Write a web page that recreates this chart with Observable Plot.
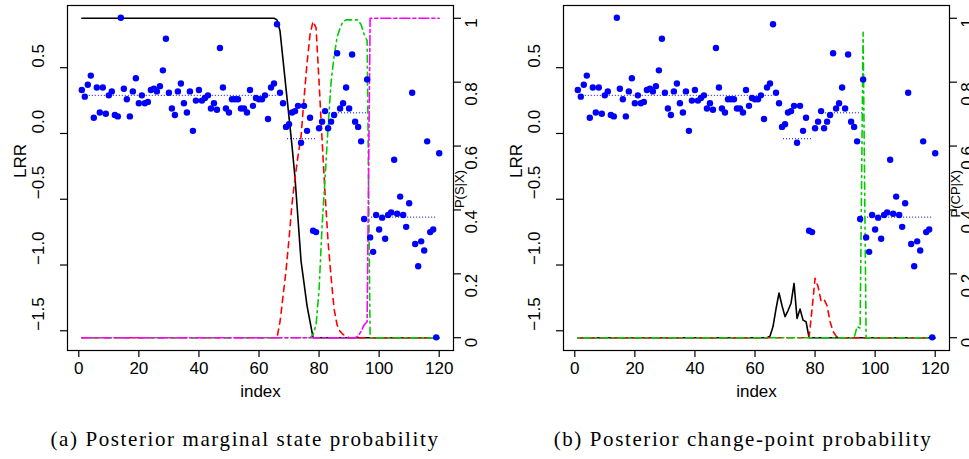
<!DOCTYPE html>
<html><head><meta charset="utf-8">
<script src="https://cdn.jsdelivr.net/npm/d3@7"></script>
<script src="https://cdn.jsdelivr.net/npm/@observablehq/plot@0.6"></script>
<style>
body{margin:0;width:969px;height:459px;overflow:hidden;background:#fff;position:relative;}
.panel{position:absolute;top:0;width:484px;height:410px;}
.panel svg{position:absolute;left:0;top:0;}
.cap{position:absolute;top:427px;font-family:"Liberation Serif",serif;font-size:21px;letter-spacing:1.6px;white-space:nowrap;transform:translateX(-50%);color:#000;}
</style></head><body>
<div id="pa" class="panel" style="left:0"></div>
<div id="pb" class="panel" style="left:496px"></div>
<div class="cap" style="left:245px">(a) Posterior marginal state probability</div>
<div class="cap" style="left:743px">(b) Posterior change-point probability</div>
<script>
// ---- data ----
const lrr = [0.33,0.28,0.37,0.44,0.12,0.35,0.16,0.35,0.15,0.29,
  0.32,0.14,0.13,0.88,0.34,0.26,0.13,0.32,0.42,0.23,
  0.29,0.23,0.24,0.33,0.34,0.32,0.36,0.48,0.72,0.31,
  0.19,0.14,0.32,0.38,0.23,0.16,0.32,0.02,0.25,0.33,
  0.25,0.27,0.29,0.19,0.23,0.18,0.65,0.35,0.19,0.16,
  0.26,0.26,0.26,0.19,0.19,0.16,0.33,0.21,0.27,0.26,
  0.26,0.29,0.11,0.35,0.38,0.83,0.31,0.23,0.05,0.07,
  0.16,0.17,0.21,-0.07,0.21,0.02,0.12,-0.74,-0.75,0.04,
  0.09,0.17,0.04,0.09,0.14,0.61,0.19,0.23,0.35,0.19,
  0.60,0.09,0.05,-0.06,-0.65,0.41,-0.79,-0.90,-0.62,-0.73,
  -0.64,-0.80,-0.62,-0.60,-0.20,-0.61,-0.48,-0.62,-0.71,-0.53,
  0.31,-0.84,-1.01,-0.82,-0.89,-0.06,-0.75,-0.73,-1.55,-0.15];

const segStart = [1.5, 69.5, 82.5, 97.5];
const segEnd   = [66.5, 79.5, 96.5, 119.5];
const segMean  = [0.29, -0.04, 0.157, -0.636];

// posterior marginal state probabilities (line vertices)
const s1Idx = [1,65,66,67,68,69,70,71,72,73,74,75,76,77,78,120];
const s1P   = [1,1,0.995,0.96,0.87,0.78,0.69,0.6,0.5,0.37,0.24,0.17,0.1,0.05,0,0];
const s2Idx = [1,66,67,68,69,70,71,72,73,74,75,76,77,78,79,80,81,82,83,84,85,86,87,88,89,90,120];
const s2P   = [0,0,0.05,0.13,0.21,0.31,0.42,0.5,0.57,0.63,0.75,0.86,0.95,0.99,0.97,0.8,0.62,0.45,0.3,0.19,0.09,0.04,0.02,0.01,0.005,0,0];
const s3Idx = [1,77,78,79,80,81,82,83,84,85,86,87,88,89,93,94,95,96,97,120];
const s3P   = [0,0,0.01,0.04,0.15,0.35,0.5,0.66,0.8,0.88,0.94,0.97,0.99,0.995,0.995,0.98,0.95,0.93,0,0];
const s4Idx = [1,92,93,94,95,96,97,120];
const s4P   = [0,0,0.005,0.02,0.04,0.05,1,1];

// posterior change-point probabilities (line vertices)
const c1Idx = [1,64,65,66,67,68,69,70,71,72,73,74,75,76,77,78,120];
const c1P   = [0,0,0.005,0.035,0.09,0.14,0.1,0.066,0.085,0.108,0.17,0.06,0.09,0.055,0.05,0,0];
const c2Idx = [1,78,79,80,81,82,83,84,85,86,87,88,120];
const c2P   = [0,0,0.09,0.186,0.16,0.115,0.12,0.1,0.05,0.02,0.005,0,0];
const c3Idx = [1,93,94,95,96,97,120];
const c3P   = [0,0,0.035,0.03,0.956,0,0];

const xTicks = [0,20,40,60,80,100,120];
const lrrTicks = [-1.5,-1,-0.5,0,0.5];
const lrrLabels = ["\u22121.5","\u22121.0","\u22120.5","0.0","0.5"];
const pTicks = [0,0.2,0.4,0.6,0.8,1];
const pLabels = ["0","0.2","0.4","0.6","0.8","1"];

const xDomain = [-3.76, 124.76];
const lrrDomain = [-1.65, 0.973];
const pDomain = [-0.04, 1.04];

// ---- build ----
const points = lrr.map((v,i)=>({i:i+1, v}));
const segs = segMean.map((m,k)=>({a:segStart[k], b:segEnd[k], m}));
const zip = (I,P)=>I.map((x,k)=>({x, p:P[k]}));

const W=484,H=410,mL=67,mR=31,mT=5,mB=60;
const font = "'Liberation Sans', Arial, sans-serif";

function basePlot(){
  return Plot.plot({
    width:W,height:H,marginLeft:mL,marginRight:mR,marginTop:mT,marginBottom:mB,
    x:{domain:xDomain}, y:{domain:lrrDomain},
    style:{background:"transparent",fontFamily:font,fontSize:"17px",color:"black"},
    marks:[
      Plot.frame({stroke:"black",strokeWidth:1.2}),
      Plot.axisX({ticks:xTicks,tickSize:7,tickPadding:4,tickFormat:d=>String(d),label:null,strokeWidth:1.2}),
      Plot.axisY({ticks:lrrTicks,tickSize:7,tickFormat:()=>"",label:null,strokeWidth:1.2}),
      Plot.text(lrrTicks,{y:d=>d,text:(d,i)=>lrrLabels[i],frameAnchor:"left",dx:-29,rotate:-90,fill:"black"}),
      Plot.text(["LRR"],{text:d=>d,frameAnchor:"left",dx:-47,rotate:-90,fill:"black"}),
      Plot.text(["index"],{text:d=>d,frameAnchor:"bottom",dy:46,fill:"black"}),
      Plot.ruleY(segs,{y:"m",x1:"a",x2:"b",stroke:"blue",strokeDasharray:"1,2",strokeWidth:1}),
      Plot.dot(points,{x:"i",y:"v",r:3.2,fill:"blue",stroke:null})
    ]
  });
}

function probPlot(lines, label){
  const marks = [
    Plot.axisY({anchor:"right",ticks:pTicks,tickSize:7,tickFormat:()=>"",label:null,strokeWidth:1.2}),
    Plot.text(pTicks,{y:d=>d,text:(d,i)=>pLabels[i],frameAnchor:"right",dx:18,rotate:-90,fill:"black"}),
    Plot.text([label],{text:d=>d,frameAnchor:"right",dx:6,dy:-8,rotate:-90,fontSize:13,fill:"black"})
  ];
  for (const L of lines){
    marks.push(Plot.line(zip(L.idx,L.p),{x:"x",y:"p",stroke:L.color,strokeWidth:1.6,strokeDasharray:L.dash}));
  }
  return Plot.plot({
    width:W,height:H,marginLeft:mL,marginRight:mR,marginTop:mT,marginBottom:mB,
    x:{domain:xDomain,axis:null}, y:{domain:pDomain},
    style:{background:"transparent",fontFamily:font,fontSize:"17px",color:"black"},
    marks
  });
}

const stateLines = [
  {idx:s1Idx,p:s1P,color:"black",dash:null},
  {idx:s2Idx,p:s2P,color:"#ff0000",dash:"6,5"},
  {idx:s3Idx,p:s3P,color:"#00cd00",dash:"2,4,7,4"},
  {idx:s4Idx,p:s4P,color:"#ff00ff",dash:"10,3,3,3"}
];
const cpLines = [
  {idx:c1Idx,p:c1P,color:"black",dash:null},
  {idx:c2Idx,p:c2P,color:"#ff0000",dash:"6,5"},
  {idx:c3Idx,p:c3P,color:"#00cd00",dash:"2,4,7,4"}
];

const pa = document.getElementById("pa");
pa.appendChild(probPlot(stateLines,"P(S|X)"));
pa.appendChild(basePlot());
const pb = document.getElementById("pb");
pb.appendChild(probPlot(cpLines,"P(CP|X)"));
pb.appendChild(basePlot());
</script>
</body></html>
